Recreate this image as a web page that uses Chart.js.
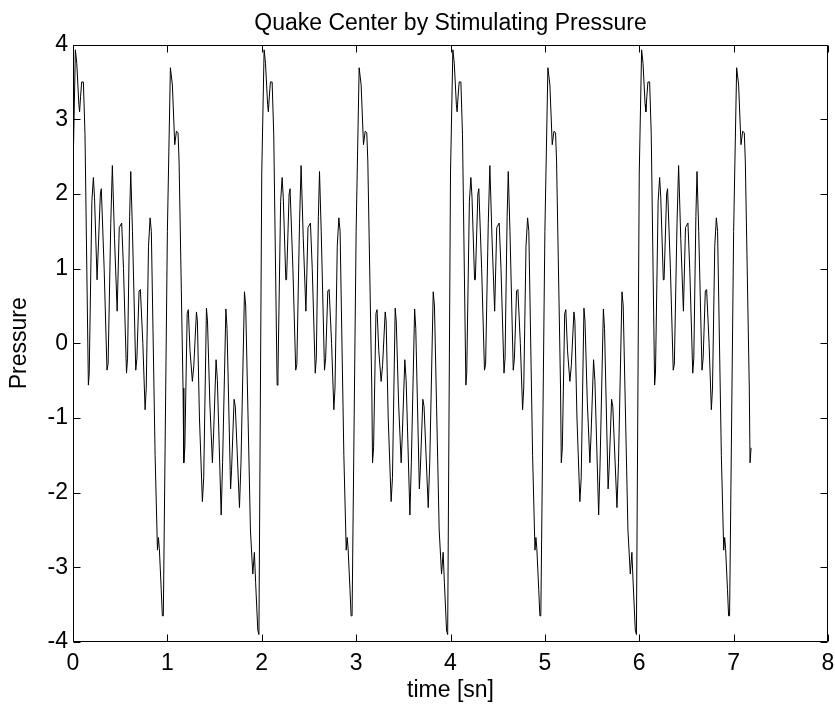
<!DOCTYPE html>
<html>
<head>
<meta charset="utf-8">
<script src="https://cdn.jsdelivr.net/npm/chart.js@4.4.1/dist/chart.umd.min.js"></script>
<style>
  html, body { margin: 0; padding: 0; background: #fff; }
  canvas { display: block; }
</style>
</head>
<body>
<canvas id="quakeChart" width="835" height="704"></canvas>
<script>
// Quake Center by Stimulating Pressure -- pressure trace vs time

// === data (one array pair per 2 s cycle) ===
const t0to2 = [0, 0.025, 0.04, 0.062, 0.07, 0.08, 0.092, 0.11, 0.127, 0.163, 0.172, 0.2, 0.216, 0.228, 0.255, 0.263, 0.29, 0.3, 0.33, 0.36, 0.372, 0.4, 0.417, 0.44, 0.468, 0.49, 0.516, 0.535, 0.567, 0.578, 0.6, 0.612, 0.63, 0.665, 0.677, 0.7, 0.714, 0.74, 0.764, 0.776, 0.8, 0.817, 0.83, 0.87, 0.895, 0.905, 0.915, 0.935, 0.947, 0.957, 1, 1.032, 1.053, 1.078, 1.096, 1.113, 1.124, 1.166, 1.174, 1.185, 1.21, 1.222, 1.24, 1.265, 1.28, 1.308, 1.318, 1.34, 1.371, 1.385, 1.414, 1.425, 1.45, 1.477, 1.49, 1.516, 1.53, 1.57, 1.585, 1.62, 1.632, 1.67, 1.68, 1.707, 1.72, 1.764, 1.78, 1.817, 1.83, 1.88, 1.905, 1.922, 1.935, 1.958, 1.97];
const p0to2 = [2.28, 3.93, 3.75, 3.2, 3.1, 3.3, 3.5, 3.5, 2.8, -0.56, -0.4, 1.9, 2.22, 1.95, 0.85, 0.85, 2, 2.07, 1, -0.36, -0.28, 1.6, 2.38, 1.4, 0.43, 1.55, 1.61, 1, -0.4, -0.2, 1.7, 2.3, 1.5, -0.36, -0.2, 0.7, 0.72, 0, -0.89, -0.6, 1.3, 1.68, 1.5, -1.5, -2.77, -2.6, -2.75, -3.3, -3.65, -3.65, 1.5, 3.69, 3.46, 2.66, 2.84, 2.82, 2.44, -0.6, -1.6, -1.4, 0.4, 0.45, -0.1, -0.51, -0.3, 0.42, 0.3, -1, -2.12, -1.8, 0.47, 0.3, -0.8, -1.6, -1.2, -0.22, -0.5, -2.3, -1.6, 0.46, 0.2, -1.95, -1.7, -0.75, -0.85, -2.2, -1.6, 0.69, 0.5, -2.5, -3.09, -2.8, -3.2, -3.84, -3.9];

const t2to4 = [2, 2.025, 2.04, 2.062, 2.07, 2.08, 2.092, 2.11, 2.127, 2.163, 2.172, 2.2, 2.216, 2.228, 2.255, 2.263, 2.29, 2.3, 2.33, 2.36, 2.372, 2.4, 2.417, 2.44, 2.468, 2.49, 2.516, 2.535, 2.567, 2.578, 2.6, 2.612, 2.63, 2.665, 2.677, 2.7, 2.714, 2.74, 2.764, 2.776, 2.8, 2.817, 2.83, 2.87, 2.895, 2.905, 2.915, 2.935, 2.947, 2.957, 3, 3.032, 3.053, 3.078, 3.096, 3.113, 3.124, 3.166, 3.174, 3.185, 3.21, 3.222, 3.24, 3.265, 3.28, 3.308, 3.318, 3.34, 3.371, 3.385, 3.414, 3.425, 3.45, 3.477, 3.49, 3.516, 3.53, 3.57, 3.585, 3.62, 3.632, 3.67, 3.68, 3.707, 3.72, 3.764, 3.78, 3.817, 3.83, 3.88, 3.905, 3.922, 3.935, 3.958, 3.97];
const p2to4 = [2.28, 3.93, 3.75, 3.2, 3.1, 3.3, 3.5, 3.5, 2.8, -0.56, -0.4, 1.9, 2.22, 1.95, 0.85, 0.85, 2, 2.07, 1, -0.36, -0.28, 1.6, 2.38, 1.4, 0.43, 1.55, 1.61, 1, -0.4, -0.2, 1.7, 2.3, 1.5, -0.36, -0.2, 0.7, 0.72, 0, -0.89, -0.6, 1.3, 1.68, 1.5, -1.5, -2.77, -2.6, -2.75, -3.3, -3.65, -3.65, 1.5, 3.69, 3.46, 2.66, 2.84, 2.82, 2.44, -0.6, -1.6, -1.4, 0.4, 0.45, -0.1, -0.51, -0.3, 0.42, 0.3, -1, -2.12, -1.8, 0.47, 0.3, -0.8, -1.6, -1.2, -0.22, -0.5, -2.3, -1.6, 0.46, 0.2, -1.95, -1.7, -0.75, -0.85, -2.2, -1.6, 0.69, 0.5, -2.5, -3.09, -2.8, -3.2, -3.84, -3.9];

const t4to6 = [4, 4.025, 4.04, 4.062, 4.07, 4.08, 4.092, 4.11, 4.127, 4.163, 4.172, 4.2, 4.216, 4.228, 4.255, 4.263, 4.29, 4.3, 4.33, 4.36, 4.372, 4.4, 4.417, 4.44, 4.468, 4.49, 4.516, 4.535, 4.567, 4.578, 4.6, 4.612, 4.63, 4.665, 4.677, 4.7, 4.714, 4.74, 4.764, 4.776, 4.8, 4.817, 4.83, 4.87, 4.895, 4.905, 4.915, 4.935, 4.947, 4.957, 5, 5.032, 5.053, 5.078, 5.096, 5.113, 5.124, 5.166, 5.174, 5.185, 5.21, 5.222, 5.24, 5.265, 5.28, 5.308, 5.318, 5.34, 5.371, 5.385, 5.414, 5.425, 5.45, 5.477, 5.49, 5.516, 5.53, 5.57, 5.585, 5.62, 5.632, 5.67, 5.68, 5.707, 5.72, 5.764, 5.78, 5.817, 5.83, 5.88, 5.905, 5.922, 5.935, 5.958, 5.97];
const p4to6 = [2.28, 3.93, 3.75, 3.2, 3.1, 3.3, 3.5, 3.5, 2.8, -0.56, -0.4, 1.9, 2.22, 1.95, 0.85, 0.85, 2, 2.07, 1, -0.36, -0.28, 1.6, 2.38, 1.4, 0.43, 1.55, 1.61, 1, -0.4, -0.2, 1.7, 2.3, 1.5, -0.36, -0.2, 0.7, 0.72, 0, -0.89, -0.6, 1.3, 1.68, 1.5, -1.5, -2.77, -2.6, -2.75, -3.3, -3.65, -3.65, 1.5, 3.69, 3.46, 2.66, 2.84, 2.82, 2.44, -0.6, -1.6, -1.4, 0.4, 0.45, -0.1, -0.51, -0.3, 0.42, 0.3, -1, -2.12, -1.8, 0.47, 0.3, -0.8, -1.6, -1.2, -0.22, -0.5, -2.3, -1.6, 0.46, 0.2, -1.95, -1.7, -0.75, -0.85, -2.2, -1.6, 0.69, 0.5, -2.5, -3.09, -2.8, -3.2, -3.84, -3.9];

const t6toEnd = [6, 6.025, 6.04, 6.062, 6.07, 6.08, 6.092, 6.11, 6.127, 6.163, 6.172, 6.2, 6.216, 6.228, 6.255, 6.263, 6.29, 6.3, 6.33, 6.36, 6.372, 6.4, 6.417, 6.44, 6.468, 6.49, 6.516, 6.535, 6.567, 6.578, 6.6, 6.612, 6.63, 6.665, 6.677, 6.7, 6.714, 6.74, 6.764, 6.776, 6.8, 6.817, 6.83, 6.87, 6.895, 6.905, 6.915, 6.935, 6.947, 6.957, 7, 7.032, 7.053, 7.078, 7.096, 7.113, 7.124, 7.166, 7.174, 7.185];
const p6toEnd = [2.28, 3.93, 3.75, 3.2, 3.1, 3.3, 3.5, 3.5, 2.8, -0.56, -0.4, 1.9, 2.22, 1.95, 0.85, 0.85, 2, 2.07, 1, -0.36, -0.28, 1.6, 2.38, 1.4, 0.43, 1.55, 1.61, 1, -0.4, -0.2, 1.7, 2.3, 1.5, -0.36, -0.2, 0.7, 0.72, 0, -0.89, -0.6, 1.3, 1.68, 1.5, -1.5, -2.77, -2.6, -2.75, -3.3, -3.65, -3.65, 1.5, 3.69, 3.46, 2.66, 2.84, 2.82, 2.44, -0.6, -1.6, -1.4];

// axis ticks
const xTicks = [0, 1, 2, 3, 4, 5, 6, 7, 8];
const yTicks = [-4, -3, -2, -1, 0, 1, 2, 3, 4];

// === build the point list ===
const times = [].concat(t0to2, t2to4, t4to6, t6toEnd);
const pressures = [].concat(p0to2, p2to4, p4to6, p6toEnd);
const points = times.map((t, i) => ({ x: t, y: pressures[i] }));

const FONT = "'Liberation Sans', Arial, Helvetica, sans-serif";
const TICK_LEN = 7;

Chart.defaults.color = "#000";
Chart.defaults.font.family = FONT;

// matlab style box with inward ticks on all four sides
const boxTicks = {
    id: "boxTicks",
    afterDraw(chart) {
        const { ctx, chartArea: a, scales } = chart;
        const L = Math.round(a.left) + 0.5, R = Math.round(a.right) - 0.5;
        const T = Math.round(a.top) + 0.5, B = Math.round(a.bottom) - 0.5;
        ctx.save();
        ctx.strokeStyle = "#000";
        ctx.lineWidth = 1;
        ctx.beginPath();
        ctx.rect(L, T, R - L, B - T);
        xTicks.forEach(v => {
            const px = Math.round(scales.x.getPixelForValue(v)) + 0.5;
            ctx.moveTo(px, B); ctx.lineTo(px, B - TICK_LEN);
            ctx.moveTo(px, T); ctx.lineTo(px, T + TICK_LEN);
        });
        yTicks.forEach(v => {
            const py = Math.round(scales.y.getPixelForValue(v)) + 0.5;
            ctx.moveTo(L, py); ctx.lineTo(L + TICK_LEN, py);
            ctx.moveTo(R, py); ctx.lineTo(R - TICK_LEN, py);
        });
        ctx.stroke();
        ctx.restore();
    }
};

const ctx = document.getElementById("quakeChart").getContext("2d");

new Chart(ctx, {
    type: "line",
    data: {
        datasets: [{
            data: points,
            borderColor: "#000",
            borderWidth: 1,
            pointRadius: 0,
            tension: 0,
            fill: false
        }]
    },
    options: {
        responsive: false,
        animation: false,
        events: [],
        layout: { padding: 0 },
        plugins: {
            legend: { display: false },
            tooltip: { enabled: false },
            title: {
                display: true,
                fullSize: false,
                text: "Quake Center by Stimulating Pressure",
                color: "#000",
                font: { size: 23, weight: "normal", lineHeight: 1.2 },
                padding: { top: 10, bottom: 7 }
            }
        },
        scales: {
            x: {
                type: "linear",
                min: 0,
                max: 8,
                afterFit: s => { s.height = 62; s.paddingLeft = 0; s.paddingRight = 7; },
                afterBuildTicks: s => { s.ticks = xTicks.map(v => ({ value: v })); },
                grid: { display: false, drawTicks: false },
                border: { display: false },
                ticks: { padding: 8, font: { size: 23 }, maxRotation: 0 },
                title: { display: true, text: "time [sn]", font: { size: 23 }, padding: { top: 8, bottom: 0 } }
            },
            y: {
                type: "linear",
                min: -4,
                max: 4,
                afterFit: s => { s.width = 73; },
                afterBuildTicks: s => { s.ticks = yTicks.map(v => ({ value: v })); },
                grid: { display: false, drawTicks: false },
                border: { display: false },
                ticks: { padding: 5, font: { size: 23 } },
                title: { display: true, text: "Pressure", font: { size: 23 }, padding: { top: 6, bottom: 0 } }
            }
        }
    },
    plugins: [boxTicks]
});
</script>
</body>
</html>
